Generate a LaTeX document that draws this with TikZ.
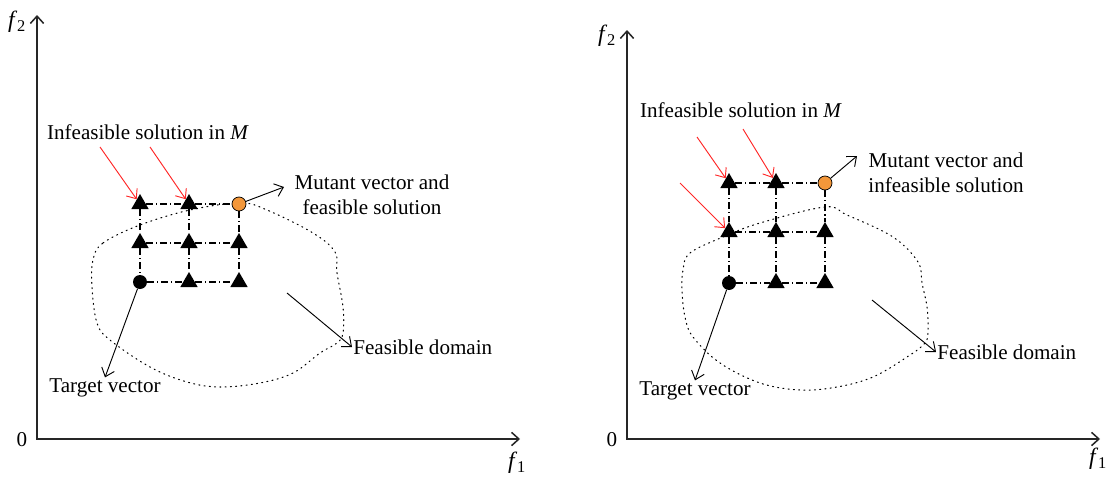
\documentclass[tikz,border=0pt]{standalone}
\usepackage{fontspec}
\setmainfont{Liberation Serif}
\usetikzlibrary{arrows.meta,shapes.geometric}

\definecolor{mutorange}{HTML}{F3973A}

\begin{document}
\begin{tikzpicture}[
    x=0.03cm, y=-0.03cm,
    font=\fontsize{18}{21}\selectfont,
    axis/.style={{Straight Barb[length=2.2mm,width=4mm]}-{Straight Barb[length=2.2mm,width=4mm]}, line width=1.3pt, draw=black!85},
    tri/.style={regular polygon, regular polygon sides=3, fill=black, inner sep=0pt, minimum size=0.6cm},
    tgt/.style={circle, fill=black, inner sep=0pt, minimum size=0.42cm},
    mut/.style={circle, draw=black, line width=0.6pt, fill=mutorange, inner sep=0pt, minimum size=0.42cm},
    gridline/.style={line width=0.9pt, dash pattern=on 6pt off 2.5pt on 1pt off 2.5pt},
    feasline/.style={line width=0.9pt, dash pattern=on 0.9pt off 3.6pt, line cap=round},
    pointer/.style={-{Straight Barb[length=2.4mm,width=4mm]}, line width=0.8pt},
    redptr/.style={pointer, draw=red!85},
    lbl/.style={align=center, inner sep=1pt},
    axlbl/.style={font=\fontsize{20}{22}\selectfont},
  ]
    \useasboundingbox (0,0) rectangle (1109,477);

    % left panel: axes
    \coordinate (Ly) at (37,15);
    \coordinate (Lo) at (37,439);
    \coordinate (Lx) at (520,439);
    \draw[axis] (Ly) -- (Lo) -- (Lx);
    \node[axlbl] (Lf2) at (17,22) {\textit{f}\textsubscript{2}};
    \node[axlbl] (Lf1) at (517,463) {\textit{f}\textsubscript{1}};
    \node (L0) at (22,440) {0};

    % left panel: feasible domain
    \draw[feasline] plot[smooth cycle, tension=0.6] coordinates {
      (93,260) (103,243) (140,225) (190,210) (240,203) (267,210) (313,233)
      (335,252) (337,273) (343,307) (343,333) (337,343) (320,353) (293,373)
      (260,383) (220,387) (187,382) (150,367) (110,340) (97,323) (92,287)};

    % left panel: grid
    \node[tri] (L11) at (140,204) {};
    \node[tri] (L12) at (189,204) {};
    \node[mut] (L13) at (239,204) {};
    \node[tri] (L21) at (140,243) {};
    \node[tri] (L22) at (189,243) {};
    \node[tri] (L23) at (239,243) {};
    \node[tgt] (L31) at (140,282) {};
    \node[tri] (L32) at (189,282) {};
    \node[tri] (L33) at (239,282) {};

    % left panel: labels
    \node[lbl] (Linf) at (148,132) {Infeasible solution in \textit{M}};
    \node[lbl] (Lmv) at (372,195) {Mutant vector and\\feasible solution};
    \node[lbl] (Ltv) at (105,388) {Target vector};
    \node[lbl, anchor=west] (Lfd) at (352,347) {Feasible domain};
    \coordinate (Lr1) at (100,147);
    \coordinate (Lr2) at (150,147);
    \coordinate (Lmt) at (284,187);
    \coordinate (Lfs) at (287,293);

    \draw[redptr] (Lr1) -- (L11);
    \draw[redptr] (Lr2) -- (L12);
    \draw[pointer] (L13) -- (Lmt);
    \draw[pointer] (L31) -- (Ltv.north);
    \draw[pointer] (Lfs) -- (Lfd.west);

    % right panel: axes
    \coordinate (Ry) at (627,30);
    \coordinate (Ro) at (627,439);
    \coordinate (Rx) at (1100,439);
    \draw[axis] (Ry) -- (Ro) -- (Rx);
    \node[axlbl] (Rf2) at (607,36) {\textit{f}\textsubscript{2}};
    \node[axlbl] (Rf1) at (1098,459) {\textit{f}\textsubscript{1}};
    \node (R0) at (612,440) {0};

    % right panel: feasible domain
    \draw[feasline] plot[smooth cycle, tension=0.6] coordinates {
      (683,270) (690,253) (723,237) (760,223) (825,207) (847,215) (893,237)
      (918,262) (922,283) (927,307) (928,330) (925,343) (907,357) (873,377)
      (837,387) (800,390) (760,383) (720,363) (693,337) (685,317) (682,290)};

    % right panel: grid
    \node[tri] (R11) at (729,183) {};
    \node[tri] (R12) at (776,183) {};
    \node[mut] (R13) at (825,183) {};
    \node[tri] (R21) at (729,232) {};
    \node[tri] (R22) at (776,232) {};
    \node[tri] (R23) at (825,232) {};
    \node[tgt] (R31) at (729,283) {};
    \node[tri] (R32) at (776,283) {};
    \node[tri] (R33) at (825,283) {};

    % right panel: labels
    \node[lbl] (Rinf) at (741,110) {Infeasible solution in \textit{M}};
    \node[lbl] (Rmv) at (946,173) {Mutant vector and\\infeasible solution};
    \node[lbl] (Rtv) at (695,391) {Target vector};
    \node[lbl, anchor=west] (Rfd) at (936,352) {Feasible domain};
    \coordinate (Rr1) at (697,137);
    \coordinate (Rr2) at (743,129);
    \coordinate (Rr3) at (680,183);
    \coordinate (Rmt) at (857,156);
    \coordinate (Rfs) at (872,300);

    \draw[redptr] (Rr1) -- (R11);
    \draw[redptr] (Rr2) -- (R12);
    \draw[redptr] (Rr3) -- (R21);
    \draw[pointer] (R13) -- (Rmt);
    \draw[pointer] (R31) -- (Rtv.north);
    \draw[pointer] (Rfs) -- (Rfd.west);

    % dash-dot grid lines
    \foreach \p in {L,R} {
      \foreach \r in {1,2,3}
        \draw[gridline] (\p\r1) -- (\p\r2) -- (\p\r3);
      \foreach \c in {1,2,3}
        \draw[gridline] (\p1\c) -- (\p2\c) -- (\p3\c);
    }
\end{tikzpicture}
\end{document}
